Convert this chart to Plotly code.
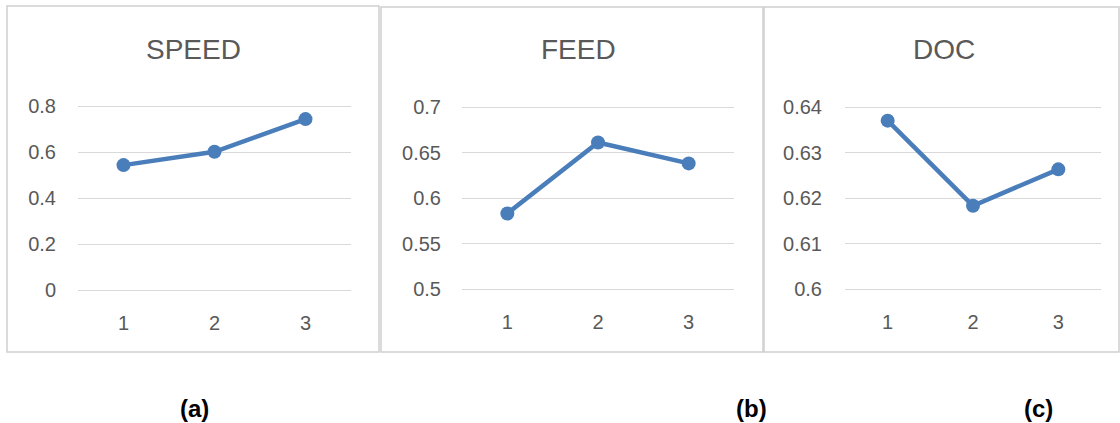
import plotly.graph_objects as go

categories = [1, 2, 3]
tick_labels = ["1", "2", "3"]

speed_values = [0.543, 0.601, 0.743]
feed_values = [0.583, 0.661, 0.638]
doc_values = [0.637, 0.6183, 0.6263]

titles = ["SPEED", "FEED", "DOC"]
captions = ["(a)", "(b)", "(c)"]

speed_ticks = [0, 0.2, 0.4, 0.6, 0.8]
speed_tick_text = ["0", "0.2", "0.4", "0.6", "0.8"]
feed_ticks = [0.5, 0.55, 0.6, 0.65, 0.7]
feed_tick_text = ["0.5", "0.55", "0.6", "0.65", "0.7"]
doc_ticks = [0.6, 0.61, 0.62, 0.63, 0.64]
doc_tick_text = ["0.6", "0.61", "0.62", "0.63", "0.64"]

W, H = 1120, 423
LINE = "#4a7ebb"
GRID = "#d9d9d9"
TXT = "#595959"
FONT = "Liberation Sans, Arial, sans-serif"
PADF = 0.02


def px(x):
    return x / W


def py(y):
    return (H - y) / H


fig = go.Figure()

panels = [
    dict(vals=speed_values, ticks=speed_ticks, ttext=speed_tick_text,
         xd=(78, 351), yd=(290, 106), box=(7, 6, 379, 352),
         title_x=193, cap_x=194, ystand=21),
    dict(vals=feed_values, ticks=feed_ticks, ttext=feed_tick_text,
         xd=(462, 734), yd=(289, 107), box=(381, 7, 763, 352),
         title_x=578, cap_x=751, ystand=20),
    dict(vals=doc_values, ticks=doc_ticks, ttext=doc_tick_text,
         xd=(845, 1101), yd=(289, 107), box=(764, 7, 1119, 352),
         title_x=944, cap_x=1038, ystand=22),
]

shapes = []
annotations = []
for i, p in enumerate(panels):
    n = "" if i == 0 else str(i + 1)
    fig.add_trace(go.Scatter(
        x=categories, y=p["vals"], mode="lines+markers",
        line=dict(color=LINE, width=4.5),
        marker=dict(color=LINE, size=14),
        xaxis="x" + n, yaxis="y" + n, showlegend=False,
        hoverinfo="y", cliponaxis=False,
    ))
    lo, hi = p["ticks"][0], p["ticks"][-1]
    span = hi - lo
    hpx = p["yd"][0] - p["yd"][1]
    ppx = hpx * PADF
    fig.layout["xaxis" + n] = dict(
        domain=[px(p["xd"][0]), px(p["xd"][1])],
        range=[0.5, 3.5], tickvals=categories, ticktext=tick_labels,
        showgrid=False, zeroline=False, showline=False, ticks="",
        tickfont=dict(size=20, color=TXT, family=FONT),
        ticklabelstandoff=int(round(19 - ppx)),
        anchor="y" + n, fixedrange=True, automargin=False,
    )
    fig.layout["yaxis" + n] = dict(
        domain=[py(p["yd"][0] + ppx), py(p["yd"][1] - ppx)],
        range=[lo - span * PADF, hi + span * PADF],
        tickvals=p["ticks"], ticktext=p["ttext"],
        showgrid=True, gridcolor=GRID, gridwidth=1,
        zeroline=False, showline=False, ticks="",
        tickfont=dict(size=20, color=TXT, family=FONT),
        ticklabelstandoff=p["ystand"],
        anchor="x" + n, fixedrange=True, automargin=False,
    )
    x0, y0, x1, y1 = p["box"]
    shapes.append(dict(type="rect", xref="paper", yref="paper",
                       x0=px(x0), x1=px(x1), y0=py(y1), y1=py(y0),
                       line=dict(color="#d0d0d0", width=1.5),
                       fillcolor="rgba(0,0,0,0)", layer="below"))
    annotations.append(dict(text=titles[i], xref="paper", yref="paper",
                            x=px(p["title_x"]), y=py(50), xanchor="center",
                            yanchor="middle", showarrow=False,
                            font=dict(size=28, color=TXT, family=FONT)))
    annotations.append(dict(text="<b>" + captions[i] + "</b>", xref="paper",
                            yref="paper", x=px(p["cap_x"]), y=py(408),
                            xanchor="center", yanchor="middle", showarrow=False,
                            font=dict(size=24, color="#000000", family=FONT)))

fig.update_layout(
    width=W, height=H,
    margin=dict(l=0, r=0, t=0, b=0, pad=0),
    paper_bgcolor="white", plot_bgcolor="white",
    shapes=shapes, annotations=annotations,
)

fig.write_html(
    "out.html",
    config={"displayModeBar": False},
    post_script="document.body.style.margin='0';document.body.style.overflow='hidden';",
)
